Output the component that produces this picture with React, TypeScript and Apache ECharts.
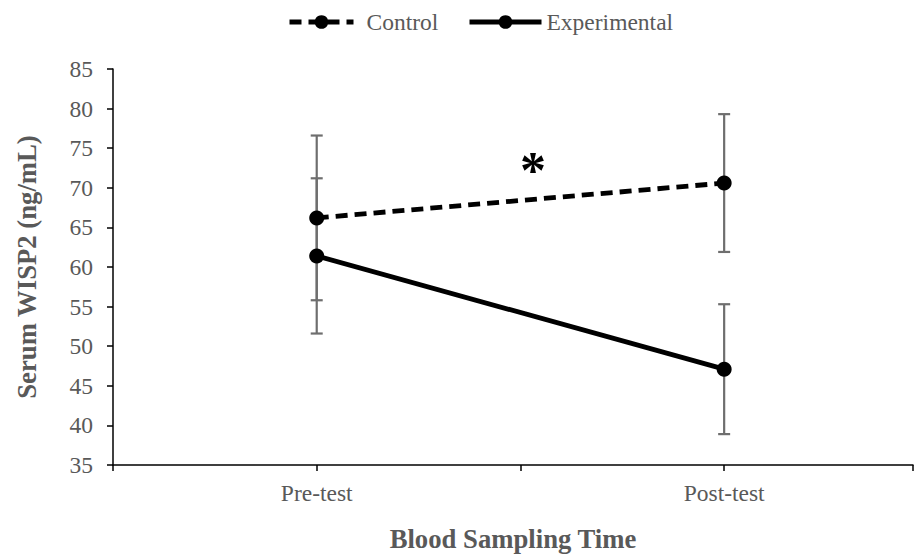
import React, { useEffect, useRef } from "react";
import * as echarts from "echarts";

const categories = ["Pre-test", "Post-test"];
const xPositions = [1, 3];
const controlMeans = [66.2, 70.6];
const controlErr = [10.4, 8.7];
const experimentalMeans = [61.4, 47.1];
const experimentalErr = [9.8, 8.2];
const yTicks = { min: 35, max: 85, step: 5 };

const FONT = "Liberation Serif";
const TEXT_COLOR = "#595959";

export default function App() {
  const ref = useRef<HTMLDivElement>(null);
  useEffect(() => {
    if (!ref.current) return;
    const chart = echarts.init(ref.current, undefined, { renderer: "svg" });

    const ctrlData = xPositions.map((x, i) => [x, controlMeans[i]]);
    const expData = xPositions.map((x, i) => [x, experimentalMeans[i]]);
    const errData: number[][] = [];
    xPositions.forEach((x, i) => {
      errData.push([x, controlMeans[i] - controlErr[i], controlMeans[i] + controlErr[i]]);
      errData.push([x, experimentalMeans[i] - experimentalErr[i], experimentalMeans[i] + experimentalErr[i]]);
    });

    const labelMap: Record<number, string> = {};
    xPositions.forEach((x, i) => (labelMap[x] = categories[i]));

    const legendText = { fontFamily: FONT, fontSize: 23.5, color: TEXT_COLOR };

    chart.setOption({
      animation: false,
      backgroundColor: "#ffffff",
      textStyle: { fontFamily: FONT },
      grid: { left: 113, top: 69, bottom: 90, right: 0, containLabel: false },
      legend: [
        {
          data: ["Control"],
          left: 282,
          top: 5,
          itemWidth: 64,
          itemHeight: 17,
          itemGap: 0,
          lineStyle: { width: 5 },
          textStyle: { ...legendText, padding: [0, 0, 0, 8] },
        },
        {
          data: ["Experimental"],
          left: 462,
          top: 5,
          itemWidth: 72,
          itemHeight: 17,
          itemGap: 0,
          lineStyle: { width: 5 },
          textStyle: { ...legendText, padding: [0, 0, 0, 0] },
        },
      ],
      xAxis: {
        type: "value",
        min: 0,
        max: 3.927,
        interval: 1,
        name: "Blood Sampling Time",
        nameLocation: "middle",
        nameGap: 60,
        nameTextStyle: { fontFamily: FONT, fontSize: 26.7, fontWeight: "bold", color: TEXT_COLOR },
        axisLine: { show: true, onZero: false, lineStyle: { color: "#000", width: 1.5 } },
        axisTick: { show: true, length: 6, lineStyle: { color: "#000", width: 1.5 } },
        axisLabel: {
          fontFamily: FONT,
          fontSize: 23.5,
          color: TEXT_COLOR,
          margin: 16,
          formatter: (v: number) => labelMap[Math.round(v * 1000) / 1000] || "",
        },
        splitLine: { show: false },
      },
      yAxis: {
        type: "value",
        min: yTicks.min,
        max: yTicks.max,
        interval: yTicks.step,
        name: "Serum WISP2 (ng/mL)",
        nameLocation: "middle",
        nameGap: 73,
        nameTextStyle: { fontFamily: FONT, fontSize: 26.7, fontWeight: "bold", color: TEXT_COLOR },
        axisLine: { show: true, lineStyle: { color: "#000", width: 1.5 } },
        axisTick: { show: true, length: 6, lineStyle: { color: "#000", width: 1.5 } },
        axisLabel: { fontFamily: FONT, fontSize: 23.5, color: TEXT_COLOR, margin: 20 },
        splitLine: { show: false },
      },
      series: [
        {
          name: "errorbars",
          type: "custom",
          z: 1,
          data: errData,
          renderItem: (params: any, api: any) => {
            const x = api.value(0);
            const lo = api.coord([x, api.value(1)]);
            const hi = api.coord([x, api.value(2)]);
            const half = 6;
            const style = { stroke: "#6e6e6e", lineWidth: 2.2, fill: "none" };
            return {
              type: "group",
              children: [
                { type: "line", shape: { x1: lo[0], y1: lo[1], x2: hi[0], y2: hi[1] }, style },
                { type: "line", shape: { x1: lo[0] - half, y1: lo[1], x2: lo[0] + half, y2: lo[1] }, style },
                { type: "line", shape: { x1: hi[0] - half, y1: hi[1], x2: hi[0] + half, y2: hi[1] }, style },
              ],
            };
          },
        },
        {
          name: "Control",
          type: "line",
          z: 3,
          data: ctrlData,
          symbol: "circle",
          symbolSize: 15,
          itemStyle: { color: "#000" },
          lineStyle: { color: "#000", width: 4.8, type: [12, 7] },
        },
        {
          name: "Experimental",
          type: "line",
          z: 3,
          data: expData,
          symbol: "circle",
          symbolSize: 15,
          itemStyle: { color: "#000" },
          lineStyle: { color: "#000", width: 4.8, type: "solid" },
        },
      ],
      graphic: [
        {
          type: "text",
          left: 520,
          top: 144,
          style: { text: "*", font: `bold 52px ${FONT}`, fill: "#000" },
        },
      ],
    });
    return () => chart.dispose();
  }, []);
  return (
    <div
      ref={ref}
      style={{ position: "absolute", left: 0, top: 0, width: 916, height: 557 }}
    />
  );
}
